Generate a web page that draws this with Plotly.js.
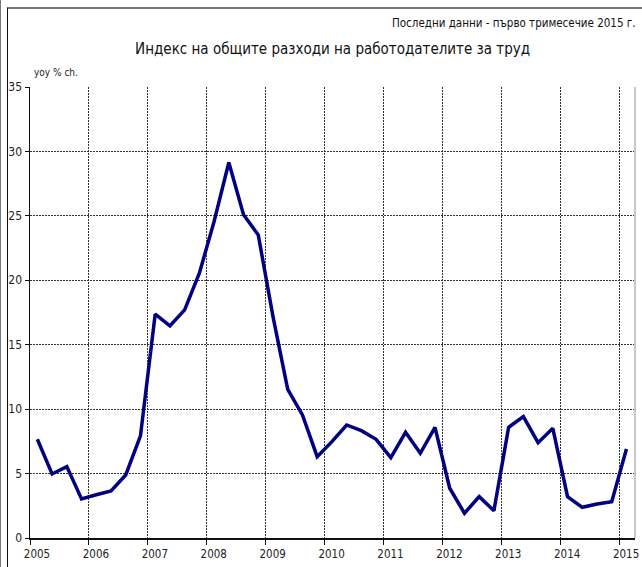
<!DOCTYPE html>
<html>
<head>
<meta charset="utf-8">
<script src="https://cdn.plot.ly/plotly-3.0.1.min.js"></script>
<style>
  body { margin: 0; background: #fff; }
  #chart { position: absolute; left: 0; top: 0; width: 642px; height: 567px; }
  .ramka-lqva { position: absolute; left: 0; top: 0; width: 1px; height: 567px; background: #777; }
  .ramka { position: absolute; left: 7px; top: 7px; width: 640px; height: 570px;
           border-left: 1px solid #111; border-top: 2px solid #777; pointer-events: none; }
</style>
</head>
<body>
<div id="chart"></div>
<div class="ramka-lqva"></div>
<div class="ramka"></div>
<script>
// тримесечни стойности 2005 Q1 - 2015 Q1, yoy % ch.
const godini = [2005, 2006, 2007, 2008, 2009, 2010, 2011, 2012, 2013, 2014, 2015];
const stoinosti = [
  7.66, 4.97, 5.54, 3.03,
  3.36, 3.65, 4.89, 7.92,
  17.37, 16.46, 17.7, 20.55,
  24.56, 29.14, 25.08, 23.52,
  17.18, 11.54, 9.55, 6.31,
  7.48, 8.77, 8.33, 7.66,
  6.24, 8.2, 6.57, 8.59,
  3.86, 1.92, 3.21, 2.12,
  8.59, 9.42, 7.4, 8.51,
  3.21, 2.38, 2.64, 2.82,
  6.91
];

// всяко тримесечие е в средата на своя интервал
const tochkiX = stoinosti.map((_, i) => godini[0] + 0.125 + i * 0.25);

const shrift = 'DejaVu Sans Condensed, Liberation Sans Narrow, sans-serif';

const traza = {
  x: tochkiX,
  y: stoinosti,
  type: 'scatter',
  mode: 'lines',
  line: { color: '#000080', width: 3.5 },
  hoverinfo: 'skip'
};

const dizain = {
  width: 642,
  height: 567,
  margin: { l: 30, r: 7, t: 87, b: 29 },
  paper_bgcolor: '#fff',
  plot_bgcolor: '#fff',
  showlegend: false,
  font: { family: shrift, size: 12, color: '#222' },
  title: {
    text: 'Индекс на общите разходи на работодателите за труд',
    font: { family: shrift, size: 15, color: '#111' },
    x: 0.518, xanchor: 'center',
    y: 1 - 49 / 567, yanchor: 'middle'
  },
  xaxis: {
    range: [2005, 2015.27],
    tickmode: 'array',
    tickvals: godini,
    ticktext: godini.map(String),
    ticks: 'outside',
    ticklen: 5,
    tickcolor: '#111',
    ticklabelshift: 7,
    tickfont: { size: 11.5 },
    showline: true,
    linecolor: '#111',
    linewidth: 1.5,
    showgrid: true,
    gridcolor: '#333',
    griddash: '2px,1px',
    gridwidth: 1,
    zeroline: false,
    fixedrange: true
  },
  yaxis: {
    range: [0, 35],
    tickmode: 'linear',
    tick0: 0,
    dtick: 5,
    ticks: 'outside',
    ticklen: 4,
    tickcolor: '#111',
    tickfont: { size: 12 },
    showline: true,
    linecolor: '#111',
    linewidth: 1.5,
    showgrid: true,
    gridcolor: '#333',
    griddash: '2px,1px',
    gridwidth: 1,
    zeroline: false,
    fixedrange: true
  },
  shapes: [
    { type: 'line', xref: 'paper', yref: 'paper', x0: 1, x1: 1, y0: 0, y1: 1,
      line: { color: '#c8c8c8', width: 2 } }
  ],
  annotations: [
    {
      text: 'Последни данни - първо тримесечие 2015 г.',
      xref: 'paper', yref: 'paper',
      x: 1.003, y: (538 - 23) / 451,
      xanchor: 'right', yanchor: 'middle',
      showarrow: false,
      font: { family: shrift, size: 11.5, color: '#111' }
    },
    {
      text: 'yoy % ch.',
      xref: 'paper', yref: 'paper',
      x: 0.003, y: (538 - 72) / 451,
      xanchor: 'left', yanchor: 'middle',
      showarrow: false,
      font: { family: shrift, size: 10, color: '#222' }
    }
  ]
};

Plotly.newPlot('chart', [traza], dizain, { staticPlot: true, displayModeBar: false });
</script>
</body>
</html>
